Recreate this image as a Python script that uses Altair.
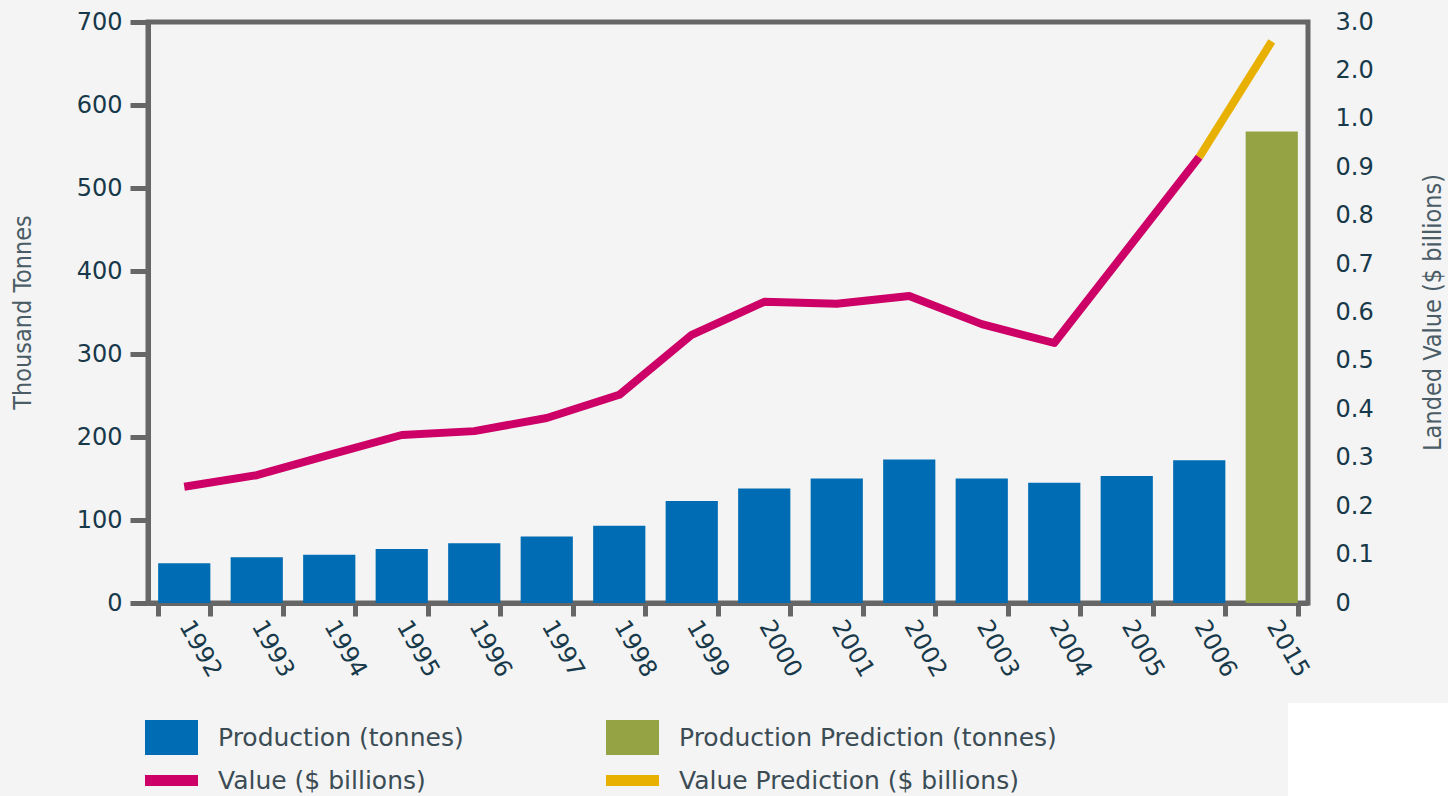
import altair as alt
import pandas as pd

# ---------------- data ----------------
years = ["1992", "1993", "1994", "1995", "1996", "1997", "1998", "1999",
         "2000", "2001", "2002", "2003", "2004", "2005", "2006", "2015"]
production = [48, 55, 58, 65, 72, 80, 93, 123, 138, 150, 173, 150, 145, 153, 172, 568]
production_series = ["Production (tonnes)"] * 15 + ["Production Prediction (tonnes)"]

value_years = ["1992", "1993", "1994", "1995", "1996", "1997", "1998", "1999",
               "2000", "2001", "2002", "2003", "2004", "2005", "2006"]
values_bn = [0.240, 0.264, 0.306, 0.347, 0.355, 0.382, 0.430, 0.554,
             0.622, 0.618, 0.634, 0.576, 0.537, 0.729, 0.921]
pred_years = ["2006", "2015"]
pred_values_bn = [0.921, 2.6]

series_domain = ["Production (tonnes)", "Production Prediction (tonnes)",
                 "Value ($ billions)", "Value Prediction ($ billions)"]
series_colors = ["#006cb4", "#95a344", "#cc0066", "#e8b000"]

left_ticks = [0, 100, 200, 300, 400, 500, 600, 700]
right_ticks = [round(i * 0.1, 1) for i in range(13)]  # positions 0 .. 1.2


def to_axis(v):
    # right axis is linear to 1.0, then 1.0 -> 2.0 -> 3.0 per step
    return v if v <= 1 else 1 + (v - 1) / 10


bars_df = pd.DataFrame({"year": years, "production": production, "series": production_series})
lines_df = pd.DataFrame({
    "year": value_years + pred_years,
    "value": values_bn + pred_values_bn,
    "series": ["Value ($ billions)"] * len(value_years) + ["Value Prediction ($ billions)"] * len(pred_years),
})
lines_df["axis_value"] = lines_df["value"].apply(to_axis)

# ---------------- styling ----------------
AXIS_GREY = "#666666"
LABEL_COLOR = "#17394a"
TITLE_COLOR = "#4a5c66"
TICK_FONT = "DejaVu Sans"
TITLE_FONT = "Liberation Sans Narrow, DejaVu Sans Condensed, sans-serif"

x_enc = alt.X(
    "year:N",
    sort=years,
    scale=alt.Scale(domain=years, paddingInner=0.28, paddingOuter=0.14),
    axis=alt.Axis(
        title=None,
        labelAngle=60,
        labelAlign="left",
        labelBaseline="middle",
        labelFont=TICK_FONT,
        labelFontSize=24,
        labelColor=LABEL_COLOR,
        labelPadding=6,
        tickBand="extent",
        tickSize=13,
        tickWidth=5,
        tickColor=AXIS_GREY,
        domainColor=AXIS_GREY,
        domainWidth=5,
        grid=False,
    ),
)

sym_expr = ("datum.index >= 2 ? 'M-1.514,-0.314H1.514V0.314H-1.514Z' "
            ": 'M-1.514,-1H1.514V1H-1.514Z'")

legend = alt.Legend(
    title=None,
    orient="none",
    legendX=6,
    legendY=698,
    direction="horizontal",
    columns=2,
    columnPadding=142,
    rowPadding=8,
    symbolSize=1225,
    symbolType=alt.ExprRef(expr=sym_expr),
    symbolStrokeWidth=0,
    symbolOpacity=1,
    labelOffset=29,
    labelFont=TICK_FONT,
    labelFontSize=25,
    labelColor="#3b4c55",
    labelLimit=0,
    padding=0,
)

color_scale = alt.Scale(domain=series_domain, range=series_colors)

bars = alt.Chart(bars_df).mark_bar().encode(
    x=x_enc,
    y=alt.Y(
        "production:Q",
        scale=alt.Scale(domain=[0, 700], nice=False),
        axis=alt.Axis(
            orient="left",
            title="Thousand Tonnes",
            values=left_ticks,
            grid=False,
            tickSize=18,
            tickWidth=5,
            tickColor=AXIS_GREY,
            domainColor=AXIS_GREY,
            domainWidth=5,
            labelFont=TICK_FONT,
            labelFontSize=24,
            labelColor=LABEL_COLOR,
            labelPadding=8,
            titleFont=TITLE_FONT,
            titleFontSize=25,
            titleFontWeight="normal",
            titleColor=TITLE_COLOR,
            titleAngle=270,
            titleAlign="center",
            titleBaseline="middle",
            titleX=-126,
            titleY=290,
        ),
    ),
    color=alt.Color("series:N", scale=color_scale, legend=legend),
)

label_expr = ("datum.value < 0.05 ? '0' : datum.value > 1.15 ? '3.0' : "
              "datum.value > 1.05 ? '2.0' : format(datum.value, '.1f')")

lines = alt.Chart(lines_df).mark_line(strokeWidth=8, strokeCap="butt", strokeJoin="round").encode(
    x=x_enc,
    y=alt.Y(
        "axis_value:Q",
        scale=alt.Scale(domain=[0, 1.2], nice=False),
        axis=alt.Axis(
            orient="right",
            title="Landed Value ($ billions)",
            values=right_ticks,
            labelExpr=label_expr,
            grid=False,
            ticks=False,
            tickSize=0,
            domain=False,
            labelFont=TICK_FONT,
            labelFontSize=24,
            labelColor=LABEL_COLOR,
            labelPadding=27,
            labelAlign="left",
            titleFont=TITLE_FONT,
            titleFontSize=25,
            titleFontWeight="normal",
            titleColor=TITLE_COLOR,
            titleAngle=270,
            titleAlign="center",
            titleBaseline="middle",
            titleX=124,
            titleY=290,
        ),
    ),
    color=alt.Color("series:N", scale=color_scale, legend=legend),
    detail="series:N",
)

# white panel behind the (not reproduced) logo in the bottom-right corner
logo_box = alt.Chart(alt.Data(values=[{"k": 1}])).mark_rect(color="white").encode(
    x=alt.value(1140), x2=alt.value(1300), y=alt.value(681), y2=alt.value(780)
)

chart = (
    alt.layer(bars, lines, logo_box)
    .resolve_scale(y="independent")
    .properties(
        width=1160,
        height=581,
        padding={"left": 148, "top": 22, "right": 140, "bottom": 193},
        autosize=alt.AutoSizeParams(type="none"),
        background="#f4f4f4",
    )
    .configure_view(stroke=AXIS_GREY, strokeWidth=5, fill="#f4f4f4")
)

chart.save("out.html", embed_options={"renderer": "svg", "actions": False})
